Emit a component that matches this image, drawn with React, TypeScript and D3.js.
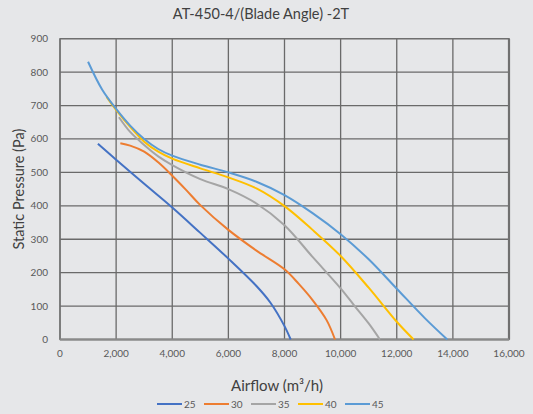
import React from "react";
import * as d3 from "d3";

const title = "AT-450-4/(Blade Angle) -2T";
const xTicks = [0, 2000, 4000, 6000, 8000, 10000, 12000, 14000, 16000];
const yTicks = [0, 100, 200, 300, 400, 500, 600, 700, 800, 900];

const s25x = [1350, 2000, 3000, 4000, 5000, 6000, 7000, 7500, 8000, 8220];
const s25y = [586, 538, 466, 395, 319, 242, 160, 110, 40, 0];
const s30x = [2150, 2500, 3000, 3500, 4000, 4500, 5000, 6000, 7000, 8000, 8500, 9000, 9500, 9800];
const s30y = [587, 580, 562, 530, 490, 447, 402, 328, 266, 210, 167, 118, 58, 0];
const s35x = [2100, 2500, 3000, 3500, 4000, 5000, 6000, 7000, 8000, 9000, 10000, 10500, 11000, 11400];
const s35y = [665, 621, 582, 548, 522, 480, 450, 407, 342, 247, 153, 100, 48, 0];
const s40x = [1660, 2000, 2500, 3000, 3500, 4000, 5000, 6000, 7000, 8000, 9000, 10000, 11000, 12000, 12600];
const s40y = [726, 687, 636, 592, 562, 541, 512, 485, 452, 399, 328, 250, 155, 53, 0];
const s45x = [1000, 1500, 2000, 2500, 3000, 3500, 4000, 5000, 6000, 7000, 8000, 9000, 10000, 11000, 12000, 13000, 13800];
const s45y = [831, 748, 690, 640, 600, 570, 550, 523, 500, 472, 432, 378, 315, 240, 152, 64, 0];

const seriesNames = ["25", "30", "35", "40", "45"];
const seriesX = [s25x, s30x, s35x, s40x, s45x];
const seriesY = [s25y, s30y, s35y, s40y, s45y];
const colors = ["#4472C4", "#ED7D31", "#A5A5A5", "#FFC000", "#5B9BD5"];

const W = 533;
const H = 414;
const FONT = "Lato, 'Open Sans', sans-serif";

export default function App() {
  const x = d3.scaleLinear().domain([0, 16000]).range([60, 509]);
  const y = d3.scaleLinear().domain([0, 900]).range([339.5, 38.7]);
  const fmt = d3.format(",");
  const line = d3
    .line<[number, number]>()
    .x((d) => x(d[0]))
    .y((d) => y(d[1]))
    .curve(d3.curveCatmullRom.alpha(0.5));

  return (
    <div style={{ position: "absolute", left: 0, top: 0 }}>
      <svg width={W} height={H} style={{ display: "block", fontFamily: FONT }}>
        <rect x={0} y={0} width={W} height={H} fill="#e6e7e9" />
        <text x={261} y={18.5} textAnchor="middle" fontSize={14.5} fill="#404040">
          {title}
        </text>
        {/* gridlines */}
        {yTicks.map((t) => (
          <line key={"gy" + t} x1={x(0)} x2={x(16000)} y1={y(t)} y2={y(t)} stroke="#6a6a6a" strokeWidth={1.3} />
        ))}
        {xTicks.map((t) => (
          <line key={"gx" + t} x1={x(t)} x2={x(t)} y1={y(0)} y2={y(900)} stroke="#6a6a6a" strokeWidth={1.3} />
        ))}
        {/* border */}
        <rect x={x(0)} y={y(900)} width={x(16000) - x(0)} height={y(0) - y(900)} fill="none" stroke="#707070" strokeWidth={1.3} />
        <line x1={x(16000)} x2={x(16000)} y1={y(900)} y2={y(0)} stroke="#707070" strokeWidth={2.2} />
        <line x1={x(0)} x2={x(16000)} y1={y(0)} y2={y(0)} stroke="#8a8a8a" strokeWidth={2.2} />
        {/* tick labels */}
        {yTicks.map((t) => (
          <text key={"ty" + t} x={48} y={y(t) + 3.5} textAnchor="end" fontSize={10} fill="#595959">
            {fmt(t)}
          </text>
        ))}
        {xTicks.map((t) => (
          <text key={"tx" + t} x={x(t)} y={357} textAnchor="middle" fontSize={10} fill="#595959">
            {fmt(t)}
          </text>
        ))}
        {/* series */}
        {seriesNames.map((n, i) => {
          const pts = seriesX[i].map((v, j) => [v, seriesY[i][j]] as [number, number]);
          return (
            <path key={"s" + n} d={line(pts) || ""} fill="none" stroke={colors[i]} strokeWidth={2} />
          );
        })}
        {/* axis titles */}
        <text
          transform={`translate(24,${(y(0) + y(900)) / 2}) rotate(-90)`}
          textAnchor="middle"
          fontSize={14.5}
          fill="#404040"
        >
          Static Pressure (Pa)
        </text>
        <text x={277} y={391} textAnchor="middle" fontSize={15} fill="#404040">
          Airflow (m³/h)
        </text>
        {/* legend */}
        {seriesNames.map((n, i) => {
          const lx = 157 + i * 47;
          return (
            <g key={"l" + n}>
              <line x1={lx} x2={lx + 25} y1={404} y2={404} stroke={colors[i]} strokeWidth={2} />
              <text x={lx + 27} y={407.5} fontSize={10} fill="#595959">
                {n}
              </text>
            </g>
          );
        })}
      </svg>
    </div>
  );
}
